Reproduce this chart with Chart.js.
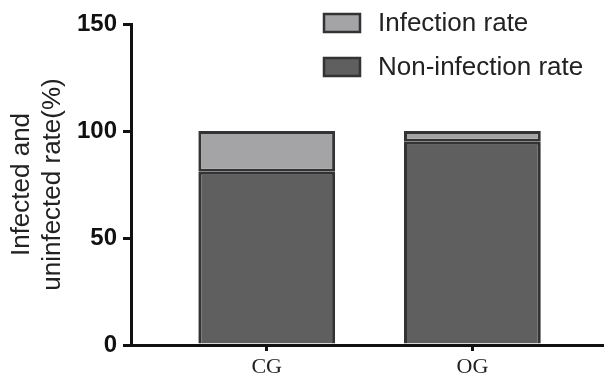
<!DOCTYPE html>
<html>
<head>
<meta charset="utf-8">
<script src="https://cdn.jsdelivr.net/npm/chart.js@4.4.1/dist/chart.umd.min.js"></script>
<style>
  html, body { margin: 0; padding: 0; background: #fff; }
  #wrap { width: 604px; height: 379px; }
</style>
</head>
<body>
<div id="wrap"><canvas id="rateChart"></canvas></div>
<script>
const groups = ["CG", "OG"];
const nonInfection = [81, 95];   // bottom part of each bar
const infection = [19, 5];       // top part, stacks to 100
const yTicks = [0, 50, 100, 150];

const darkGrey = "#5f5f5f";
const lightGrey = "#a4a4a6";
const edge = "#333333";
const axisColor = "#111111";

// legend drawn in the top right, two rows, like the original figure
const legendPlugin = {
  id: "stackLegend",
  afterDraw(chart) {
    const ctx = chart.ctx;
    const items = [
      { text: "Infection rate", color: lightGrey },
      { text: "Non-infection rate", color: darkGrey },
    ];
    ctx.save();
    ctx.font = "26px 'Liberation Sans', Arial, sans-serif";
    ctx.textBaseline = "middle";
    items.forEach((it, i) => {
      const cy = 23 + i * 44;
      ctx.fillStyle = it.color;
      ctx.fillRect(324, cy - 9, 36, 18);
      ctx.lineWidth = 2.5;
      ctx.strokeStyle = edge;
      ctx.strokeRect(324, cy - 9, 36, 18);
      ctx.fillStyle = "#222";
      ctx.fillText(it.text, 378, cy + 1);
    });
    ctx.restore();
  },
};

const drawChart = () => {
  const ctx = document.getElementById("rateChart").getContext("2d");
  new Chart(ctx, {
    type: "bar",
    data: {
      datasets: [
        {
          label: "Non-infection rate",
          data: nonInfection.map((v, i) => ({ x: i + 1, y: v })),
          backgroundColor: darkGrey,
          borderColor: edge,
          borderWidth: 3,
          borderSkipped: "start",
        },
        {
          label: "Infection rate",
          data: infection.map((v, i) => ({ x: i + 1, y: v })),
          backgroundColor: lightGrey,
          borderColor: edge,
          borderWidth: 3,
          borderSkipped: false,
        },
      ],
    },
    options: {
      responsive: true,
      maintainAspectRatio: false,
      animation: false,
      categoryPercentage: 1,
      barPercentage: 0.665,
      layout: { padding: { top: 24, left: 0, right: 0, bottom: 0 } },
      plugins: {
        legend: { display: false },
        tooltip: { enabled: false },
      },
      scales: {
        x: {
          type: "linear",
          stacked: true,
          offset: false,
          min: 0.34,
          max: 2.64,
          afterBuildTicks: (scale) => {
            scale.ticks = groups.map((g, i) => ({ value: i + 1 }));
          },
          afterFit: (scale) => { scale.height = 34; },
          ticks: {
            callback: (v) => groups[v - 1],
            font: { family: "'Liberation Serif', 'Times New Roman', serif", size: 22, lineHeight: 1 },
            color: "#222",
            padding: 5,
            maxRotation: 0,
          },
          grid: {
            drawOnChartArea: false,
            offset: false,
            tickLength: 6,
            lineWidth: 3,
            color: axisColor,
          },
          border: { width: 3, color: axisColor },
        },
        y: {
          stacked: true,
          min: 0,
          max: 150,
          afterBuildTicks: (scale) => {
            scale.ticks = yTicks.map((v) => ({ value: v }));
          },
          afterFit: (scale) => { scale.width = 131; },
          ticks: {
            font: { family: "'Liberation Sans', Arial, sans-serif", size: 24, weight: "bold" },
            color: axisColor,
            padding: 6,
          },
          grid: {
            drawOnChartArea: false,
            tickLength: 8,
            lineWidth: 3,
            color: axisColor,
          },
          border: { width: 3, color: axisColor },
          title: {
            display: true,
            text: ["Infected and", "uninfected rate(%)"],
            font: { family: "'Liberation Sans', Arial, sans-serif", size: 26, lineHeight: 1.17 },
            color: "#222",
            padding: { top: 7, bottom: 8 },
          },
        },
      },
    },
    plugins: [legendPlugin],
  });
};

drawChart();
</script>
</body>
</html>
